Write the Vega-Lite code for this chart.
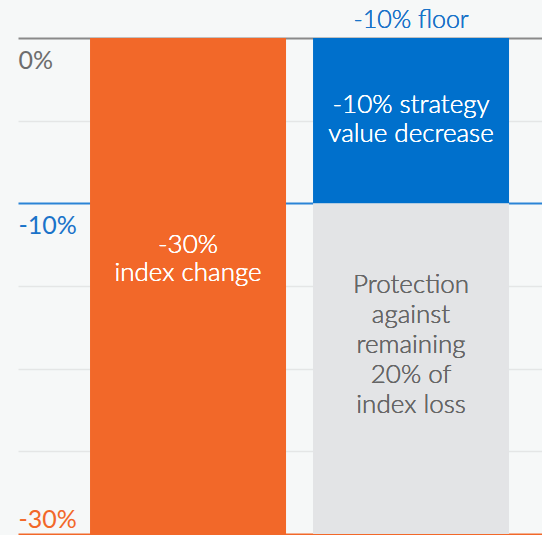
{
  "$schema": "https://vega.github.io/schema/vega-lite/v6.json",
  "width": 524,
  "height": 496,
  "autosize": {"type": "none"},
  "padding": {"left": 18, "top": 38, "right": 0, "bottom": 1},
  "background": "#f6f8f8",
  "config": {"view": {"stroke": null}, "font": "Lato"},
  "data": {
    "values": [
      {"bar": "Index", "part": "Index change", "start": 0, "end": -30},
      {"bar": "Strategy", "part": "Strategy decrease", "start": 0, "end": -10},
      {"bar": "Strategy", "part": "Protection", "start": -10, "end": -30}
    ]
  },
  "layer": [
    {
      "mark": {"type": "bar"},
      "encoding": {
        "x": {
          "field": "bar",
          "type": "nominal",
          "scale": {"domain": ["Index", "Strategy"], "paddingInner": 0.1211, "paddingOuter": 0.2354, "align": 0.686},
          "axis": null
        },
        "y": {
          "field": "start",
          "type": "quantitative",
          "scale": {"domain": [-30, 0], "nice": false},
          "axis": {
            "title": null,
            "values": [0, -5, -10, -15, -20, -25, -30],
            "domain": false,
            "ticks": false,
            "grid": true,
            "gridColor": {
              "condition": [
                {"test": "datum.value == 0", "value": "#8a8a8a"},
                {"test": "datum.value == -10", "value": "#2a84d6"},
                {"test": "datum.value == -30", "value": "#f26829"}
              ],
              "value": "#e4e6e6"
            },
            "gridWidth": {
              "condition": {"test": "datum.value == 0 || datum.value == -10 || datum.value == -30", "value": 2},
              "value": 1.5
            },
            "labelExpr": "datum.value == 0 || datum.value == -10 || datum.value == -30 ? datum.value + '%' : ''",
            "labelAlign": "left",
            "labelPadding": 0,
            "labelBaseline": "alphabetic",
            "labelFlush": false,
            "labelOverlap": false,
            "labelFont": "Lato",
            "labelFontSize": 25,
            "labelFontWeight": 400,
            "labelOffset": {
              "condition": {"test": "datum.value == -30", "value": -7},
              "value": 30
            },
            "labelColor": {
              "condition": [
                {"test": "datum.value == -10", "value": "#1a73c9"},
                {"test": "datum.value == -30", "value": "#f26829"}
              ],
              "value": "#6d6d6d"
            }
          }
        },
        "y2": {"field": "end"},
        "color": {
          "field": "part",
          "type": "nominal",
          "scale": {"domain": ["Index change", "Strategy decrease", "Protection"], "range": ["#f26829", "#0070cc", "#e3e4e6"]},
          "legend": null
        }
      }
    },
    {
      "mark": {"type": "text", "text": ["-30%", "index change"], "fontSize": 26, "fontWeight": 300, "color": "#ffffff", "lineHeight": 28, "baseline": "alphabetic"},
      "encoding": {"x": {"datum": "Index"}, "y": {"datum": -13.0}}
    },
    {
      "mark": {"type": "text", "text": ["-10% strategy", "value decrease"], "fontSize": 26, "fontWeight": 300, "color": "#ffffff", "lineHeight": 29, "baseline": "alphabetic"},
      "encoding": {"x": {"datum": "Strategy"}, "y": {"datum": -4.54}}
    },
    {
      "mark": {"type": "text", "text": ["Protection", "against", "remaining", "20% of", "index loss"], "fontSize": 26, "fontWeight": 300, "color": "#666666", "lineHeight": 30, "baseline": "alphabetic"},
      "encoding": {"x": {"datum": "Strategy"}, "y": {"datum": -15.42}}
    },
    {
      "mark": {"type": "text", "text": "-10% floor", "fontSize": 25, "fontWeight": 300, "color": "#1a73c9", "baseline": "alphabetic", "dy": -10},
      "encoding": {"x": {"datum": "Strategy"}, "y": {"datum": 0}}
    }
  ]
}
